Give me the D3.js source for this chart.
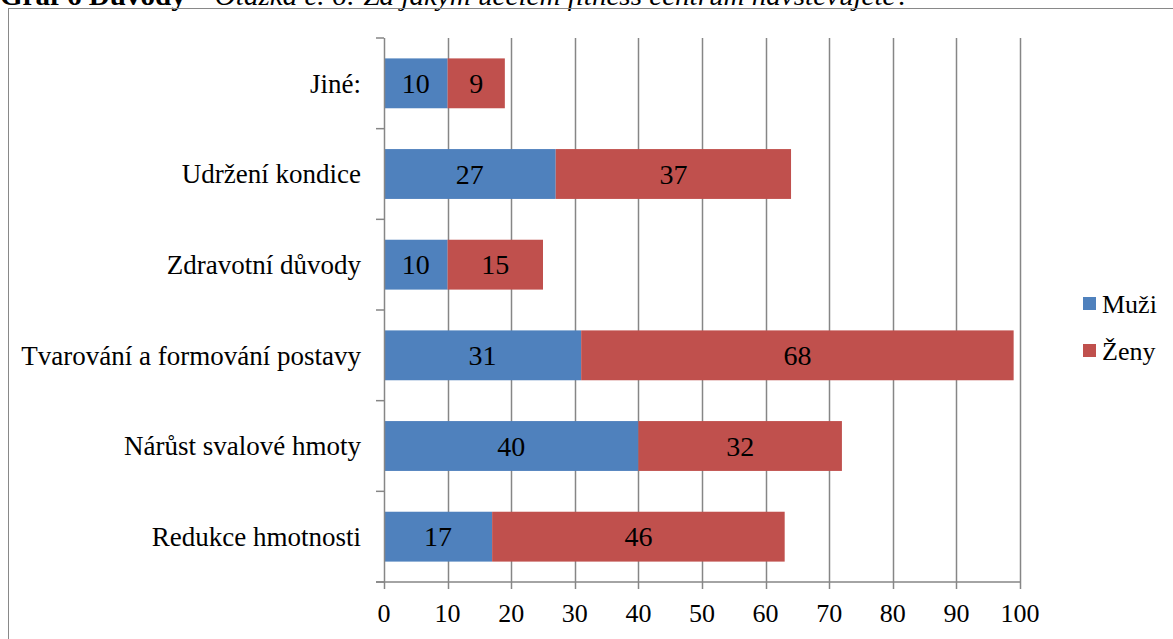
<!DOCTYPE html>
<html>
<head>
<meta charset="utf-8">
<script src="https://cdn.jsdelivr.net/npm/d3@7"></script>
<style>
  body { margin: 0; background: #fff; }
  text { font-family: "Liberation Serif", "Times New Roman", serif; fill: #000; }
</style>
</head>
<body>
<script>
// Data
var categories = ["Jiné:", "Udržení kondice", "Zdravotní důvody",
                  "Tvarování a formování postavy", "Nárůst svalové hmoty", "Redukce hmotnosti"];
var muzi = [10, 27, 10, 31, 40, 17];
var zeny = [9, 37, 15, 68, 32, 46];
var seriesNames = ["Muži", "Ženy"];
var seriesColors = ["#4F81BD", "#C0504D"];
var xTicks = [0, 10, 20, 30, 40, 50, 60, 70, 80, 90, 100];

var W = 1173, H = 639;
var margin = {top: 38, left: 384, right: 153, bottom: 57};

var svg = d3.select("body").append("svg")
    .attr("width", W)
    .attr("height", H)
    .attr("font-family", "'Liberation Serif', 'Times New Roman', serif");

// title, mostly cut off by the top edge like in the original
var title = svg.append("text")
   .attr("x", 0)
   .attr("y", 5)
   .attr("font-size", 27)
   .attr("textLength", 910)
   .attr("lengthAdjust", "spacingAndGlyphs");
title.append("tspan").attr("font-weight", "bold").text("Graf 6 Důvody – ");
title.append("tspan").attr("font-style", "italic")
     .text("Otázka č. 6: Za jakým účelem fitness centrum navštěvujete?");

svg.append("rect")
   .attr("x", 8.5).attr("y", 8.5)
   .attr("width", W + 20).attr("height", H + 20)
   .attr("fill", "none")
   .attr("stroke", "#898989");

var xScale = d3.scaleLinear()
               .domain([0, 100])
               .range([margin.left, 1020]);

var yScale = d3.scaleBand()
               .domain(categories)
               .range([margin.top, H - margin.bottom])
               .paddingInner(0.45)
               .paddingOuter(0.225);

var y0 = margin.top, y1 = H - margin.bottom;
var axisColor = "#868686";

// vertical gridlines
svg.append("g")
   .selectAll("line")
   .data(xTicks.slice(1))
   .enter()
   .append("line")
   .attr("x1", function(d) {return Math.round(xScale(d)) + 0.5;})
   .attr("x2", function(d) {return Math.round(xScale(d)) + 0.5;})
   .attr("y1", y0)
   .attr("y2", y1)
   .attr("stroke", axisColor)
   .attr("stroke-width", 1.5);

// stacked bars
var rows = categories.map(function(c, i) {
    return {cat: c, values: [muzi[i], zeny[i]]};
});

rows.forEach(function(r) {
    var start = 0;
    r.values.forEach(function(v, s) {
        svg.append("rect")
           .attr("x", xScale(start))
           .attr("y", yScale(r.cat))
           .attr("width", xScale(start + v) - xScale(start))
           .attr("height", yScale.bandwidth())
           .attr("fill", seriesColors[s]);
        svg.append("text")
           .attr("x", xScale(start + v / 2))
           .attr("y", yScale(r.cat) + yScale.bandwidth() / 2)
           .attr("dy", "0.35em")
           .attr("text-anchor", "middle")
           .attr("font-size", 28)
           .text(v);
        start += v;
    });
});

// y axis line and boundary ticks
svg.append("line")
   .attr("x1", margin.left + 0.5).attr("x2", margin.left + 0.5)
   .attr("y1", y0).attr("y2", y1)
   .attr("stroke", axisColor).attr("stroke-width", 1.5);

var step = (y1 - y0) / categories.length;
svg.append("g")
   .selectAll("line")
   .data(d3.range(categories.length + 1))
   .enter()
   .append("line")
   .attr("x1", margin.left - 8)
   .attr("x2", margin.left)
   .attr("y1", function(i) {return y0 + i * step;})
   .attr("y2", function(i) {return y0 + i * step;})
   .attr("stroke", axisColor).attr("stroke-width", 1.5);

// category labels
svg.append("g")
   .selectAll("text")
   .data(categories)
   .enter()
   .append("text")
   .attr("x", margin.left - 23)
   .attr("y", function(d) {return yScale(d) + yScale.bandwidth() / 2;})
   .attr("dy", "0.35em")
   .attr("text-anchor", "end")
   .attr("font-size", 27)
   .text(function(d) {return d;});

// x axis
svg.append("line")
   .attr("x1", margin.left - 8).attr("x2", xScale(100))
   .attr("y1", y1).attr("y2", y1)
   .attr("stroke", axisColor).attr("stroke-width", 1.5);

svg.append("g")
   .selectAll("line")
   .data(xTicks)
   .enter()
   .append("line")
   .attr("x1", function(d) {return Math.round(xScale(d)) + 0.5;})
   .attr("x2", function(d) {return Math.round(xScale(d)) + 0.5;})
   .attr("y1", y1)
   .attr("y2", y1 + 7)
   .attr("stroke", axisColor).attr("stroke-width", 1.5);

svg.append("g")
   .selectAll("text")
   .data(xTicks)
   .enter()
   .append("text")
   .attr("x", function(d) {return xScale(d);})
   .attr("y", y1 + 40)
   .attr("text-anchor", "middle")
   .attr("font-size", 26)
   .text(function(d) {return d;});

// legend
var legend = svg.append("g")
                .selectAll("g")
                .data(seriesNames)
                .enter()
                .append("g")
                .attr("transform", function(d, i) {return "translate(1083," + (297 + i * 47) + ")";});

legend.append("rect")
      .attr("width", 13).attr("height", 13)
      .attr("fill", function(d, i) {return seriesColors[i];});

legend.append("text")
      .attr("x", 19)
      .attr("y", 7)
      .attr("dy", "0.35em")
      .attr("font-size", 26)
      .text(function(d) {return d;});
</script>
</body>
</html>
